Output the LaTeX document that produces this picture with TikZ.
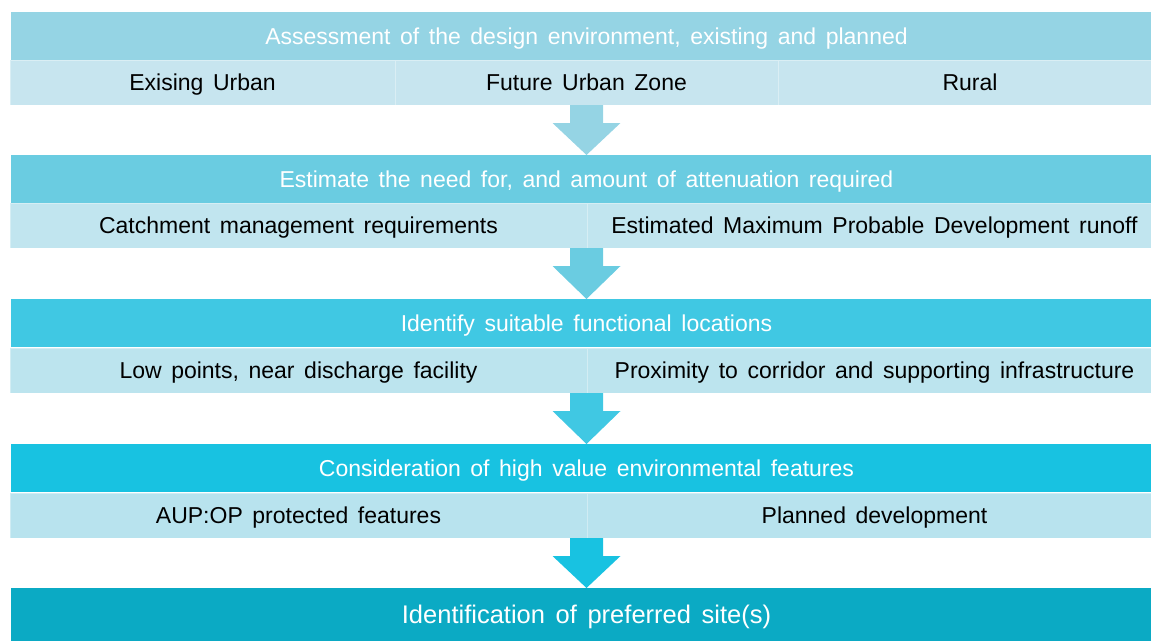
\documentclass[tikz,border=0pt]{standalone}
\usepackage{fontspec}
\setmainfont{Liberation Sans}[WordSpace=1.5]
\usetikzlibrary{calc}
\definecolor{hA}{HTML}{95D4E4}
\definecolor{sA}{HTML}{C7E5EF}
\definecolor{hB}{HTML}{6ACCE1}
\definecolor{sB}{HTML}{C1E5EF}
\definecolor{hC}{HTML}{40C8E3}
\definecolor{sC}{HTML}{BCE4EE}
\definecolor{hD}{HTML}{18C2E1}
\definecolor{sD}{HTML}{B8E3EE}
\definecolor{hE}{HTML}{0BAAC4}
\newcommand\flowarrow[3]{%
  \fill[#3] let \p1=(#2.north), \p2=(#1.south) in
    (\x1-16.5pt,\y2) -- (\x1-16.5pt,\y2-18pt) -- (\x1-34pt,\y2-18pt)
    -- (\x1,\y1) -- (\x1+34pt,\y2-18pt) -- (\x1+16.5pt,\y2-18pt)
    -- (\x1+16.5pt,\y2) -- cycle;}
\begin{document}
\begin{tikzpicture}[x=1pt,y=-1pt,
  box/.style={inner sep=0pt, outer sep=0pt, anchor=north west},
  head/.style={box, text=white, minimum width=1151pt, minimum height=48pt,
    text height=16.5pt, text depth=0pt, font=\fontsize{23}{27}\selectfont},
  sub/.style={box, text=black, minimum height=45pt, draw=white, draw opacity=0.35,
    line width=0.8pt, text height=16.5pt, text depth=0pt, font=\fontsize{23}{27}\selectfont},
  final/.style={box, text=white, minimum width=1151pt, minimum height=53pt,
    text height=18.3pt, text depth=0pt, font=\fontsize{25.5}{30}\selectfont}]
\useasboundingbox (0,0) rectangle (1151,641);
% row 1
\node[head, fill=hA] (h1) at (11,12) {Assessment of the design environment, existing and planned};
\node[sub, fill=sA, minimum width=385pt] (s1a) at (10,60) {Exising Urban};
\node[sub, fill=sA, minimum width=383pt] (s1b) at (395,60) {Future Urban Zone};
\node[sub, fill=sA, minimum width=384pt] (s1c) at (778,60) {Rural};
% row 2
\node[head, fill=hB] (h2) at (11,155) {Estimate the need for, and amount of attenuation required};
\node[sub, fill=sB, minimum width=577pt] (s2a) at (10,203) {Catchment management requirements};
\node[sub, fill=sB, minimum width=575pt] (s2b) at (587,203) {Estimated Maximum Probable Development runoff};
% row 3
\node[head, fill=hC] (h3) at (11,299) {Identify suitable functional locations};
\node[sub, fill=sC, minimum width=577pt] (s3a) at (10,348) {Low points, near discharge facility};
\node[sub, fill=sC, minimum width=575pt] (s3b) at (587,348) {Proximity to corridor and supporting infrastructure};
% row 4
\node[head, fill=hD] (h4) at (11,444) {Consideration of high value environmental features};
\node[sub, fill=sD, minimum width=577pt] (s4a) at (10,493) {AUP:OP protected features};
\node[sub, fill=sD, minimum width=575pt] (s4b) at (587,493) {Planned development};
% final
\node[final, fill=hE] (h5) at (11,588) {Identification of preferred site(s)};
% arrows
\flowarrow{s1a}{h2}{hA}
\flowarrow{s2a}{h3}{hB}
\flowarrow{s3a}{h4}{hC}
\flowarrow{s4a}{h5}{hD}
\end{tikzpicture}
\end{document}
